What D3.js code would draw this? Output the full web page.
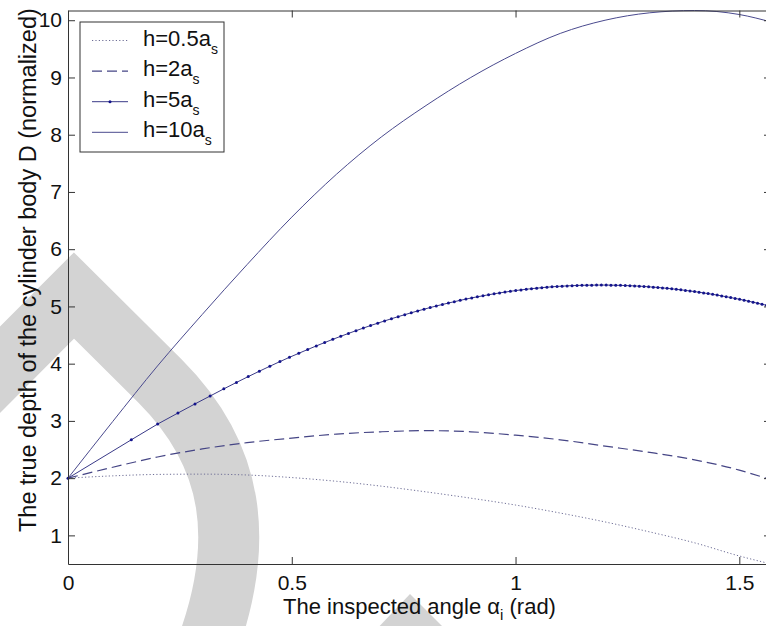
<!DOCTYPE html>
<html>
<head>
<meta charset="utf-8">
<script src="https://cdn.jsdelivr.net/npm/d3@7"></script>
<style>
  body { margin: 0; background: #fff; }
  svg { display: block; }
  text { font-family: "Liberation Sans", Arial, Helvetica, sans-serif; fill: #111; }
</style>
</head>
<body>
<div id="chart"></div>
<script>
// coarse angle grid used for the three plain curves (rad)
const alphaGrid = [0, 0.1, 0.2, 0.3, 0.4, 0.5, 0.6, 0.7, 0.8, 0.9, 1.0, 1.1, 1.2, 1.3, 1.4, 1.5, 1.5708];
const depthH05 = [2.00, 2.04, 2.065, 2.07, 2.055, 2.01, 1.945, 1.86, 1.76, 1.65, 1.53, 1.39, 1.235, 1.06, 0.87, 0.64, 0.50];
const depthH2  = [2.00, 2.19, 2.37, 2.51, 2.62, 2.70, 2.77, 2.81, 2.83, 2.81, 2.75, 2.67, 2.56, 2.45, 2.32, 2.14, 1.97];
const depthH10 = [2.00, 2.99, 3.96, 4.86, 5.73, 6.56, 7.31, 7.96, 8.51, 9.00, 9.42, 9.77, 10.00, 10.13, 10.17, 10.10, 9.97];

// the h=5 curve is drawn with its sample markers, read one by one
const alphaH5 = [0, 0.1415, 0.2003, 0.2456, 0.2838, 0.3176, 0.3482, 0.3764, 0.4027, 0.4275,
  0.4510, 0.4735, 0.4949, 0.5156, 0.5355, 0.5548, 0.5735, 0.5917, 0.6094, 0.6266,
  0.6435, 0.6600, 0.6761, 0.6920, 0.7075, 0.7227, 0.7377, 0.7525, 0.7670, 0.7813,
  0.7954, 0.8093, 0.8230, 0.8366, 0.8500, 0.8632, 0.8763, 0.8892, 0.9021, 0.9147,
  0.9273, 0.9397, 0.9521, 0.9643, 0.9764, 0.9884, 1.0004, 1.0122, 1.0239, 1.0356,
  1.0472, 1.0587, 1.0701, 1.0815, 1.0928, 1.1040, 1.1152, 1.1263, 1.1374, 1.1484,
  1.1593, 1.1702, 1.1810, 1.1918, 1.2025, 1.2132, 1.2239, 1.2345, 1.2451, 1.2556,
  1.2661, 1.2766, 1.2870, 1.2974, 1.3078, 1.3181, 1.3284, 1.3387, 1.3490, 1.3592,
  1.3694, 1.3796, 1.3898, 1.4000, 1.4101, 1.4202, 1.4303, 1.4404, 1.4505, 1.4606,
  1.4706, 1.4807, 1.4907, 1.5007, 1.5108, 1.5208, 1.5308, 1.5408, 1.5508, 1.5608, 1.5708];
const depthH5 = [2.000, 2.670, 2.945, 3.137, 3.297, 3.435, 3.560, 3.672, 3.774, 3.868,
  3.955, 4.036, 4.111, 4.181, 4.247, 4.310, 4.369, 4.425, 4.478, 4.528,
  4.576, 4.622, 4.666, 4.707, 4.747, 4.785, 4.821, 4.856, 4.889, 4.921,
  4.951, 4.980, 5.008, 5.034, 5.059, 5.083, 5.106, 5.128, 5.149, 5.168,
  5.186, 5.204, 5.220, 5.236, 5.250, 5.264, 5.277, 5.289, 5.300, 5.310,
  5.319, 5.328, 5.336, 5.343, 5.349, 5.354, 5.359, 5.363, 5.366, 5.369,
  5.371, 5.372, 5.373, 5.373, 5.373, 5.372, 5.370, 5.368, 5.365, 5.362,
  5.358, 5.354, 5.349, 5.343, 5.337, 5.331, 5.324, 5.316, 5.308, 5.299,
  5.290, 5.280, 5.270, 5.259, 5.248, 5.236, 5.224, 5.211, 5.198, 5.184,
  5.170, 5.155, 5.140, 5.124, 5.108, 5.091, 5.074, 5.056, 5.038, 5.019, 5.000];

const xTicks = [0, 0.5, 1, 1.5];
const yTicks = [1, 2, 3, 4, 5, 6, 7, 8, 9, 10];
const legendLabels = ["0.5", "2", "5", "10"];

const width = 766, height = 626;

const svg = d3.select("#chart").append("svg")
    .attr("width", width)
    .attr("height", height);

// axis tight: limits follow the data
const allDepths = depthH05.concat(depthH2, depthH5, depthH10);
const x = d3.scaleLinear().domain([0, 1.5708]).range([68, 771]);
const y = d3.scaleLinear().domain([d3.min(allDepths), d3.max(allDepths)]).range([564, 10.5]);

// grey watermark behind the plot
svg.append("path")
    .attr("d", "M-60,430 L74,295.5 L160,381 C232,453 250,540 202,660")
    .attr("fill", "none")
    .attr("stroke", "#d3d3d3")
    .attr("stroke-width", 61)
    .attr("stroke-linejoin", "miter");
svg.append("path")
    .attr("d", "M410,594 L374,632 L448,632 Z")
    .attr("fill", "#d3d3d3");

const line = d3.line()
    .x(d => x(d[0]))
    .y(d => y(d[1]));
const smooth = d3.line()
    .x(d => x(d[0]))
    .y(d => y(d[1]))
    .curve(d3.curveMonotoneX);

const series = [
  { pts: d3.zip(alphaGrid, depthH05), stroke: "#6e6e96", width: 1, dash: "1.2,2.2", gen: smooth },
  { pts: d3.zip(alphaGrid, depthH2), stroke: "#454585", width: 1.2, dash: "10,5", gen: smooth },
  { pts: d3.zip(alphaH5, depthH5), stroke: "#3a3a88", width: 1, dash: null, gen: line },
  { pts: d3.zip(alphaGrid, depthH10), stroke: "#4a4a8e", width: 1, dash: null, gen: smooth }
];

const plot = svg.append("g");
series.forEach(s => {
  plot.append("path")
      .attr("d", s.gen(s.pts))
      .attr("fill", "none")
      .attr("stroke", s.stroke)
      .attr("stroke-width", s.width)
      .attr("stroke-dasharray", s.dash);
});

plot.selectAll("circle.mk")
    .data(d3.zip(alphaH5, depthH5))
    .enter().append("circle")
    .attr("class", "mk")
    .attr("cx", d => x(d[0]))
    .attr("cy", d => y(d[1]))
    .attr("r", 1.5)
    .attr("fill", "#14148c");

// box with inward ticks on all four sides
const fmt = d => String(d);
function styleAxis(g) {
  g.attr("font-size", 21)
   .attr("font-family", "Liberation Sans, Arial, sans-serif");
  g.select(".domain").attr("stroke", "#333");
  g.selectAll(".tick line").attr("stroke", "#333");
  g.selectAll(".tick text").attr("fill", "#111");
}

svg.append("g")
    .attr("transform", `translate(0,${y.range()[0]})`)
    .call(d3.axisBottom(x).tickValues(xTicks).tickFormat(fmt).tickSize(-7).tickSizeOuter(0).tickPadding(11))
    .call(styleAxis);
svg.append("g")
    .attr("transform", `translate(0,${y.range()[1]})`)
    .call(d3.axisTop(x).tickValues(xTicks).tickFormat("").tickSize(-7).tickSizeOuter(0))
    .call(styleAxis);
svg.append("g")
    .attr("transform", `translate(${x.range()[0]},0)`)
    .call(d3.axisLeft(y).tickValues(yTicks).tickFormat(fmt).tickSize(-7).tickSizeOuter(0).tickPadding(6))
    .call(styleAxis);
svg.append("g")
    .attr("transform", `translate(${x.range()[1]},0)`)
    .call(d3.axisRight(y).tickValues(yTicks).tickFormat("").tickSize(-7).tickSizeOuter(0))
    .call(styleAxis);

// axis titles
const xt = svg.append("text")
    .attr("x", (x.range()[0] + x.range()[1]) / 2)
    .attr("y", 614)
    .attr("text-anchor", "middle")
    .attr("font-size", 22);
xt.append("tspan").text("The inspected angle \u03B1");
xt.append("tspan").attr("font-size", 15).attr("dy", 6).text("i");
xt.append("tspan").attr("dy", -6).text(" (rad)");

svg.append("text")
    .attr("transform", "translate(36,532) rotate(-90)")
    .attr("text-anchor", "start")
    .attr("font-size", 23.5)
    .text("The true depth of the cylinder body D (normalized)");

// legend
const legend = svg.append("g");
legend.append("rect")
    .attr("x", 80).attr("y", 22)
    .attr("width", 144).attr("height", 130)
    .attr("fill", "#fff")
    .attr("stroke", "#333")
    .attr("stroke-width", 1);

legendLabels.forEach((lab, i) => {
  const s = series[i];
  const ly = 40.5 + i * 30.6;
  legend.append("line")
      .attr("x1", 92).attr("x2", 128)
      .attr("y1", ly).attr("y2", ly)
      .attr("stroke", s.stroke)
      .attr("stroke-width", s.width)
      .attr("stroke-dasharray", s.dash);
  if (i === 2) {
    legend.append("circle")
        .attr("cx", 110).attr("cy", ly)
        .attr("r", 1.5).attr("fill", "#14148c");
  }
  const t = legend.append("text")
      .attr("x", 143).attr("y", ly + 5)
      .attr("font-size", 22);
  t.append("tspan").text("h=" + lab + "a");
  t.append("tspan").attr("font-size", 14).attr("dy", 8).text("s");
});
</script>
</body>
</html>
